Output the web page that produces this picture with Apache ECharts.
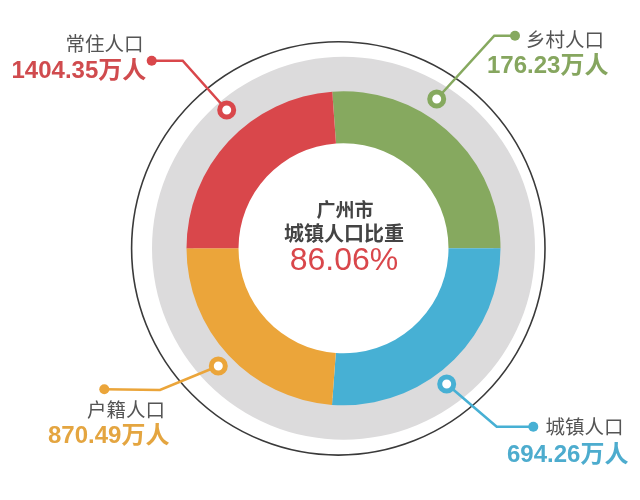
<!DOCTYPE html>
<html>
<head>
<meta charset="utf-8">
<script src="https://cdn.jsdelivr.net/npm/echarts@6/dist/echarts.min.js"></script>
<style>
html,body{margin:0;padding:0;background:#fff;}
#chart{width:640px;height:500px;}
</style>
</head>
<body>
<div id="chart"></div>
<script>
// Data
var categories = ['乡村人口', '城镇人口', '户籍人口', '常住人口'];
var sliceAngles = [94.1, 94.2, 85.8, 85.9]; // angular share of each slice as drawn (degrees)
var valueLabels = ['176.23万人', '694.26万人', '870.49万人', '1404.35万人'];
var colors = ['#86a95f', '#47b0d4', '#eba53a', '#d9474b'];
var textColors = ['#86a65f', '#4dacce', '#e4a540', '#d04b4e'];
var centerTitle = ['广州市', '城镇人口比重'];
var centerValue = '86.06%';

var cx = 343.5, cy = 248.3;
var FONT = '"Liberation Sans","Noto Sans CJK SC",sans-serif';
var CJK = '"Noto Sans CJK SC","Liberation Sans",sans-serif';

// annotation layout: [dot, elbow, marker], name text pos, value text pos (left x, center y)
var layout = [
  {pts: [[515, 35.7], [494.3, 35.7], [436.7, 99]], name: [526, 40], value: [487, 66.7], align: 'left'},
  {pts: [[533.3, 426.7], [496.7, 426.7], [446.7, 384]], name: [545.5, 426.7], value: [507, 455], align: 'left'},
  {pts: [[104.3, 389.3], [160, 390], [218.3, 366]], name: [87, 410], value: [48, 436.7], align: 'left'},
  {pts: [[151.7, 60.7], [182.7, 60.7], [226.7, 110]], name: [65.5, 43.3], value: [11.5, 71.7], align: 'left'}
];

var graphics = [];
graphics.push({type: 'circle', z: 1, shape: {cx: 338.3, cy: 248.4, r: 206.7},
  style: {fill: 'none', stroke: '#3a3a3a', lineWidth: 1.6}, silent: true});

layout.forEach(function (l, i) {
  graphics.push({type: 'polyline', z: 100, shape: {points: l.pts},
    style: {stroke: colors[i], lineWidth: 2.6, fill: null}, silent: true});
  graphics.push({type: 'circle', z: 101, shape: {cx: l.pts[0][0], cy: l.pts[0][1], r: 5},
    style: {fill: colors[i]}, silent: true});
  graphics.push({type: 'circle', z: 101, shape: {cx: l.pts[2][0], cy: l.pts[2][1], r: 7},
    style: {fill: '#fff', stroke: colors[i], lineWidth: 5}, silent: true});
  graphics.push({type: 'text', z: 102, style: {text: categories[i], x: l.name[0], y: l.name[1],
    fill: '#555', font: '19.5px ' + CJK, align: 'left', verticalAlign: 'middle'}, silent: true});
  graphics.push({type: 'text', z: 102, style: {text: valueLabels[i], x: l.value[0], y: l.value[1],
    fill: textColors[i], font: 'bold 24px ' + FONT, align: 'left', verticalAlign: 'middle'}, silent: true});
});

graphics.push({type: 'text', z: 102, style: {text: centerTitle[0], x: 345, y: 210,
  fill: '#444', font: 'bold 19px ' + CJK, align: 'center', verticalAlign: 'middle'}, silent: true});
graphics.push({type: 'text', z: 102, style: {text: centerTitle[1], x: 344, y: 233,
  fill: '#444', font: 'bold 20px ' + CJK, align: 'center', verticalAlign: 'middle'}, silent: true});
graphics.push({type: 'text', z: 102, style: {text: centerValue, x: 344, y: 261,
  fill: '#d9474b', font: '32px ' + FONT, align: 'center', verticalAlign: 'middle'}, silent: true});

var chart = echarts.init(document.getElementById('chart'), null, {renderer: 'canvas'});
chart.setOption({
  animation: false,
  backgroundColor: '#fff',
  series: [
    {
      type: 'pie', silent: true, center: [cx, cy], radius: [150, 191.5],
      label: {show: false}, labelLine: {show: false},
      data: [{value: 1, itemStyle: {color: '#dcdbdc'}}]
    },
    {
      type: 'pie', silent: true, center: [cx, cy], radius: [105, 157],
      startAngle: 94.1, clockwise: true,
      label: {show: false}, labelLine: {show: false},
      data: categories.map(function (c, i) {
        return {name: c, value: sliceAngles[i], itemStyle: {color: colors[i]}};
      })
    }
  ],
  graphic: graphics
});
</script>
</body>
</html>
